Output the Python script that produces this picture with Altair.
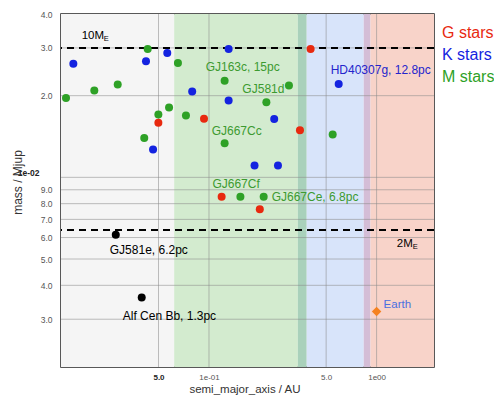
import altair as alt
import pandas as pd

# ---------------- data ----------------
g_a = [0.0499, 0.0934, 0.404, 0.349, 0.119, 0.201]
g_m = [0.0159, 0.01645, 0.0297, 0.0149, 0.00849, 0.00763]

k_a = [0.01552, 0.0421, 0.0564, 0.0794, 0.0464, 0.131, 0.131, 0.245, 0.594, 0.187, 0.258]
k_m = [0.0262, 0.0268, 0.0287, 0.0207, 0.01266, 0.0297, 0.0192, 0.0164, 0.0221, 0.01106, 0.01106]

m_a = [0.01403, 0.0207, 0.02855, 0.0431, 0.0653, 0.0499, 0.0578, 0.0729, 0.0411,
       0.124, 0.300, 0.220, 0.124, 0.547, 0.154, 0.212]
m_m = [0.0196, 0.0209, 0.0220, 0.0297, 0.0264, 0.01705, 0.01808, 0.0169, 0.01396,
       0.0227, 0.0218, 0.0189, 0.01335, 0.0144, 0.00849, 0.00849]

hl_a = [0.0278, 0.0397]
hl_m = [0.00614, 0.00361]

earth_a = [1.0]
earth_m = [0.0032]

# habitable-zone bands (semi-major axis, AU)
band_start = [0.0131, 0.062, 0.339, 0.383, 0.838, 0.92]
band_end = [0.062, 0.339, 0.383, 0.838, 0.92, 2.2]
band_color = ["#f5f5f5", "#d3ebcf", "#a9d1bb", "#d8e4fa", "#d4bdd6", "#f8d3c9"]

# reference mass lines (Mjup): 10 M_E and 2 M_E
ref_m = [0.0300, 0.0064]

x_ticks = [0.05, 0.1, 0.5, 1.0]
y_ticks = [0.003, 0.004, 0.005, 0.006, 0.007, 0.008, 0.009, 0.01, 0.02, 0.03, 0.04]

label_text = ["GJ163c, 15pc", "GJ581d", "GJ667Cc", "GJ667Cf", "GJ667Ce, 6.8pc",
              "HD40307g, 12.8pc", "GJ581e, 6.2pc", "Alf Cen Bb, 1.3pc", "Earth"]
label_a = [0.124, 0.220, 0.124, 0.154, 0.212, 0.594, 0.0278, 0.0397, 1.0]
label_m = [0.0227, 0.0189, 0.01335, 0.00849, 0.00849, 0.0221, 0.00614, 0.00361, 0.0032]

legend_text = ["G stars", "K stars", "M stars"]

# ---------------- styling ----------------
RED = "#e8290f"
BLUE = "#1423e0"
GREEN = "#2ea126"
TGREEN = "#3c9a30"
TBLUE = "#2424cc"
BLACK = "#000000"
EARTH = "#f5821f"
EARTHTXT = "#4a6fe0"
FONT = "Liberation Sans"

W, H = 373, 353
xdom = [0.0131, 2.2]
ydom = [0.002, 0.04]

xs = alt.Scale(type="log", domain=xdom, nice=False)
ys = alt.Scale(type="log", domain=ydom, nice=False)

pts = pd.DataFrame(
    {"a": g_a + k_a + m_a + hl_a, "m": g_m + k_m + m_m + hl_m,
     "t": ["G"] * len(g_a) + ["K"] * len(k_a) + ["M"] * len(m_a) + ["X"] * len(hl_a)}
)
earth = pd.DataFrame({"a": earth_a, "m": earth_m})
bands = pd.DataFrame({"s": band_start, "e": band_end, "c": band_color})

xlab = ("datum.value == 0.1 ? '1e-01' : datum.value == 1 ? '1e00' : "
        "format(datum.value / pow(10, floor(log(datum.value)/LN10 + 1e-9)), '.1f')")
ylab = ("abs(datum.value - 0.01) < 1e-9 ? '1e-02' : "
        "format(datum.value / pow(10, floor(log(datum.value)/LN10 + 1e-9)), '.1f')")
is_e2 = "abs(datum.value - 0.01) < 1e-9"

x_axis = alt.Axis(values=x_ticks, labelExpr=xlab, grid=False, ticks=False, domain=False,
                  labelFont=FONT, labelFontSize=8, labelPadding=6,
                  labelColor=alt.condition("datum.value == 0.05", alt.value("#222222"), alt.value("#555555")),
                  labelFontWeight=alt.condition("datum.value == 0.05", alt.value("bold"), alt.value("normal")),
                  title="semi_major_axis / AU", titleFont=FONT, titleFontSize=11.5,
                  titleFontWeight="normal", titleColor="#333333",
                  titleX=W / 2 - 3, titleY=22, titleBaseline="middle")
y_axis = alt.Axis(values=y_ticks, labelExpr=ylab, grid=False, ticks=False, domain=False,
                  labelFont=FONT, labelFontSize=8.5,
                  labelPadding=alt.condition(is_e2, alt.value(22), alt.value(9)),
                  labelOffset=alt.condition(is_e2, alt.value(-5), alt.value(0)),
                  labelColor=alt.condition(is_e2, alt.value("#222222"), alt.value("#555555")),
                  labelFontWeight=alt.condition(is_e2, alt.value("bold"), alt.value("normal")),
                  title="mass / Mjup", titleFont=FONT, titleFontSize=12,
                  titleFontWeight="normal", titleColor="#333333",
                  titleX=-44, titleY=168, titleBaseline="middle", titleAngle=-90)

band_layer = alt.Chart(bands).mark_rect().encode(
    x=alt.X("s:Q", scale=xs, axis=x_axis),
    x2="e:Q",
    color=alt.Color("c:N", scale=None),
)

vgrid = alt.Chart(pd.DataFrame({"v": x_ticks})).mark_rule(color="#8a8a8a", opacity=0.55, strokeWidth=1).encode(
    x=alt.X("v:Q", scale=xs)
)
hgrid = alt.Chart(pd.DataFrame({"v": y_ticks[:-1]})).mark_rule(color="#8a8a8a", opacity=0.55, strokeWidth=1).encode(
    y=alt.Y("v:Q", scale=ys, axis=y_axis)
)

ref_lines = alt.Chart(pd.DataFrame({"v": ref_m})).mark_rule(
    color="black", strokeWidth=2, strokeDash=[7, 5]
).encode(y=alt.Y("v:Q", scale=ys))

point_layer = alt.Chart(pts).mark_point(filled=True, opacity=1, size=64, shape="circle").encode(
    x=alt.X("a:Q", scale=xs),
    y=alt.Y("m:Q", scale=ys),
    color=alt.Color("t:N", scale=alt.Scale(domain=["G", "K", "M", "X"], range=[RED, BLUE, GREEN, BLACK]),
                    legend=None),
)
earth_layer = alt.Chart(earth).mark_point(filled=True, opacity=1, size=90, shape="diamond", color=EARTH).encode(
    x=alt.X("a:Q", scale=xs), y=alt.Y("m:Q", scale=ys)
)

# label offsets (pixels) and colours
offsets = [(-19, -14), (-24, -13), (-13, -12), (-28, -13), (8, 0), (-8, -14), (-6, 15), (-19, 19), (7, -7)]
lcolors = [TGREEN, TGREEN, TGREEN, TGREEN, TGREEN, TBLUE, BLACK, BLACK, EARTHTXT]
lsizes = [12, 12, 12, 12, 12, 12, 12, 12, 11.5]

text_layers = []
for t, a, m, (dx, dy), c, fs in zip(label_text, label_a, label_m, offsets, lcolors, lsizes):
    text_layers.append(
        alt.Chart(pd.DataFrame({"a": [a], "m": [m], "t": [t]})).mark_text(
            align="left", baseline="middle", dx=dx, dy=dy, color=c, font=FONT, fontSize=fs
        ).encode(x=alt.X("a:Q", scale=xs), y=alt.Y("m:Q", scale=ys), text="t:N")
    )

# 10 M_E and 2 M_E labels anchored to their lines
me_anchor_a = [0.01741, 1.32]
me_text = ["10M", "2M"]
me_dy = [-12, 14]
me_sub_dx = [22, 16]
for a, m, t, dy, sdx in zip(me_anchor_a, ref_m, me_text, me_dy, me_sub_dx):
    d = pd.DataFrame({"a": [a], "m": [m], "t": [t], "e": ["E"]})
    text_layers.append(
        alt.Chart(d).mark_text(align="left", baseline="middle", dy=dy, color="black", font=FONT, fontSize=11.5)
        .encode(x=alt.X("a:Q", scale=xs), y=alt.Y("m:Q", scale=ys), text="t:N")
    )
    text_layers.append(
        alt.Chart(d).mark_text(align="left", baseline="middle", dx=sdx, dy=dy + 3, color="black", font=FONT,
                               fontSize=7.5)
        .encode(x=alt.X("a:Q", scale=xs), y=alt.Y("m:Q", scale=ys), text="e:N")
    )

# colour key written as coloured words to the right of the frame
legend_colors = [RED, BLUE, GREEN]
legend_y = [19, 41, 63]
legend_layers = []
for t, c, yy in zip(legend_text, legend_colors, legend_y):
    legend_layers.append(
        alt.Chart(pd.DataFrame({"t": [t]})).mark_text(
            align="left", baseline="middle", font=FONT, fontSize=16, color=c
        ).encode(x=alt.value(W + 8), y=alt.value(yy), text="t:N")
    )

chart = alt.layer(
    band_layer, vgrid, hgrid, ref_lines, point_layer, earth_layer, *text_layers, *legend_layers
).properties(
    width=W, height=H,
    autosize=alt.AutoSizeParams(type="none"),
    padding={"left": 53, "top": 6, "right": 60, "bottom": 29},
).configure_view(stroke="#222222", strokeWidth=1.5)

chart.save("out.html", embed_options={"renderer": "svg", "actions": False})
